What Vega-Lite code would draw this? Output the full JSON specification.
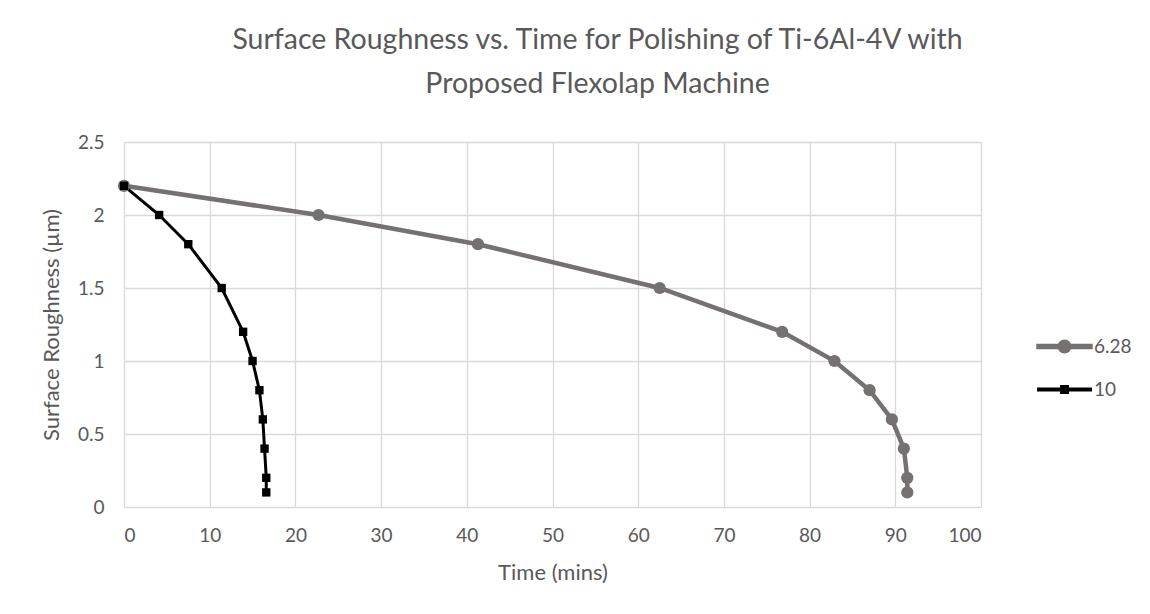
{
  "$schema": "https://vega.github.io/schema/vega-lite/v6.json",
  "width": 857,
  "height": 365,
  "autosize": "none",
  "padding": {"left": 124, "top": 142, "right": 169, "bottom": 107},
  "background": "#ffffff",
  "title": {
    "text": ["Surface Roughness vs. Time for Polishing of Ti-6Al-4V with", "Proposed Flexolap Machine"],
    "anchor": "middle",
    "frame": "group",
    "dx": 45,
    "offset": 35,
    "font": "Lato",
    "fontSize": 28.5,
    "fontWeight": "normal",
    "lineHeight": 44,
    "color": "#595959"
  },
  "data": {
    "values": [
      {"series": "6.28", "i": 0, "time": 0, "ra": 2.2},
      {"series": "6.28", "i": 1, "time": 22.7, "ra": 2.0},
      {"series": "6.28", "i": 2, "time": 41.3, "ra": 1.8},
      {"series": "6.28", "i": 3, "time": 62.5, "ra": 1.5},
      {"series": "6.28", "i": 4, "time": 76.8, "ra": 1.2},
      {"series": "6.28", "i": 5, "time": 82.9, "ra": 1.0},
      {"series": "6.28", "i": 6, "time": 87.0, "ra": 0.8},
      {"series": "6.28", "i": 7, "time": 89.6, "ra": 0.6},
      {"series": "6.28", "i": 8, "time": 91.0, "ra": 0.4},
      {"series": "6.28", "i": 9, "time": 91.4, "ra": 0.2},
      {"series": "6.28", "i": 10, "time": 91.4, "ra": 0.1},
      {"series": "10", "i": 11, "time": 0, "ra": 2.2},
      {"series": "10", "i": 12, "time": 4.1, "ra": 2.0},
      {"series": "10", "i": 13, "time": 7.5, "ra": 1.8},
      {"series": "10", "i": 14, "time": 11.4, "ra": 1.5},
      {"series": "10", "i": 15, "time": 13.9, "ra": 1.2},
      {"series": "10", "i": 16, "time": 15.0, "ra": 1.0},
      {"series": "10", "i": 17, "time": 15.8, "ra": 0.8},
      {"series": "10", "i": 18, "time": 16.2, "ra": 0.6},
      {"series": "10", "i": 19, "time": 16.4, "ra": 0.4},
      {"series": "10", "i": 20, "time": 16.6, "ra": 0.2},
      {"series": "10", "i": 21, "time": 16.6, "ra": 0.1}
    ]
  },
  "encoding": {
    "x": {
      "field": "time", "type": "quantitative",
      "scale": {"domain": [0, 100], "nice": false, "zero": true},
      "axis": {"values": [0,10,20,30,40,50,60,70,80,90,100], "title": "Time (mins)", "grid": true}
    },
    "y": {
      "field": "ra", "type": "quantitative",
      "scale": {"domain": [0, 2.5], "nice": false},
      "axis": {"values": [0,0.5,1,1.5,2,2.5], "title": "Surface Roughness (µm)", "grid": true, "format": "~g"}
    },
    "color": {
      "field": "series", "type": "nominal",
      "scale": {"domain": ["6.28", "10"], "range": ["#767171", "#000000"]},
      "legend": {
        "title": null,
        "orient": "none",
        "legendX": 925,
        "legendY": 189,
        "rowPadding": 14,
        "symbolSize": 676,
        "symbolStrokeWidth": 0,
        "symbolOpacity": 1,
        "labelFont": "Lato",
        "labelFontSize": 19,
        "labelColor": "#595959",
        "labelOffset": 14
      }
    }
  },
  "layer": [
    {
      "mark": {"type": "point", "filled": true, "opacity": 0},
      "encoding": {
        "shape": {
          "field": "series", "type": "nominal",
          "scale": {
            "domain": ["6.28", "10"],
            "range": [
              "M-2,-0.04H2V0.04H-2ZM-0.365,0A0.365,0.365,0,1,1,0.365,0A0.365,0.365,0,1,1,-0.365,0Z",
              "M-2,-0.04H2V0.04H-2ZM-0.23,-0.23H0.23V0.23H-0.23Z"
            ]
          },
          "legend": {
            "title": null,
            "orient": "none",
            "legendX": 925,
            "legendY": 189,
            "rowPadding": 14,
            "symbolSize": 676,
            "symbolStrokeWidth": 0,
            "symbolOpacity": 1,
            "labelFont": "Lato",
            "labelFontSize": 19,
            "labelColor": "#595959",
            "labelOffset": 14
          }
        }
      }
    },
    {
      "mark": {"type": "line"},
      "encoding": {
        "order": {"field": "i", "type": "quantitative"},
        "strokeWidth": {
          "field": "series", "type": "nominal",
          "scale": {"domain": ["6.28", "10"], "range": [4.5, 3]},
          "legend": null
        }
      }
    },
    {
      "transform": [{"filter": "datum.series == '6.28'"}],
      "mark": {"type": "point", "filled": true, "opacity": 1, "shape": "circle", "size": 150}
    },
    {
      "transform": [{"filter": "datum.series == '10'"}],
      "mark": {"type": "point", "filled": true, "opacity": 1, "shape": "square", "size": 70}
    }
  ],
  "config": {
    "view": {"stroke": null},
    "axis": {
      "labelFont": "Lato",
      "titleFont": "Lato",
      "labelFontSize": 19,
      "titleFontSize": 22,
      "titleFontWeight": "normal",
      "labelColor": "#595959",
      "titleColor": "#595959",
      "gridColor": "#d9d9d9",
      "gridWidth": 1.3,
      "gridOpacity": 1,
      "ticks": false,
      "domain": false
    },
    "axisX": {"labelPadding": 19, "titlePadding": 17},
    "axisY": {"labelPadding": 20, "titlePadding": 14}
  }
}
